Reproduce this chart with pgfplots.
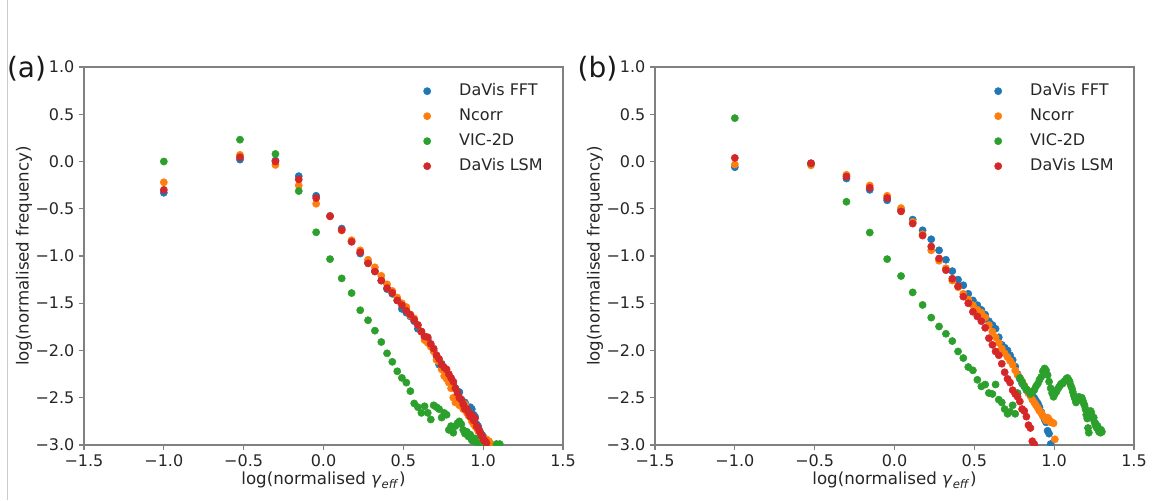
\documentclass[border=0pt]{standalone}
\usepackage{pgfplots}
\pgfplotsset{compat=1.18}
\usepackage{pgfplotstable}
\usepackage{fontspec}
\setmainfont{DejaVu Sans}[ItalicFont={DejaVu Sans Oblique}]

\definecolor{tabblue}{HTML}{1F77B4}
\definecolor{taborange}{HTML}{FF7F0E}
\definecolor{tabgreen}{HTML}{2CA02C}
\definecolor{tabred}{HTML}{D62728}

% ---------- panel (a) ----------
\pgfplotstableread{
x y
-1.000 -0.33
-0.523 0.02
-0.301 0.01
-0.155 -0.155
-0.046 -0.363
0.041 -0.575
0.114 -0.71
0.176 -0.845
0.230 -0.974
0.279 -1.07
0.322 -1.16
0.362 -1.26
0.398 -1.35
0.431 -1.40
0.462 -1.47
0.491 -1.56
0.519 -1.60
0.544 -1.64
0.568 -1.69
0.591 -1.77
0.613 -1.80
0.633 -1.86
0.653 -1.88
0.672 -1.95
0.690 -2.00
0.708 -2.06
0.724 -2.15
0.740 -2.14
0.756 -2.20
0.771 -2.24
0.785 -2.27
0.799 -2.30
0.813 -2.36
0.826 -2.40
0.839 -2.43
0.851 -2.44
0.863 -2.52
0.875 -2.56
0.886 -2.55
0.898 -2.60
0.908 -2.62
0.919 -2.60
0.929 -2.62
0.940 -2.68
0.949 -2.70
0.959 -2.78
0.968 -2.80
0.978 -2.85
0.987 -2.88
0.996 -2.90
1.004 -2.92
1.013 -2.95
1.021 -2.97
1.029 -2.99
}\fftA

\pgfplotstableread{
x y
-1.000 -0.22
-0.523 0.07
-0.301 -0.036
-0.155 -0.254
-0.046 -0.447
0.041 -0.58
0.114 -0.73
0.176 -0.833
0.230 -0.94
0.279 -1.04
0.322 -1.12
0.362 -1.21
0.398 -1.30
0.431 -1.37
0.462 -1.44
0.491 -1.50
0.519 -1.54
0.544 -1.63
0.568 -1.66
0.591 -1.73
0.613 -1.80
0.633 -1.89
0.653 -1.92
0.672 -1.96
0.690 -2.01
0.708 -2.10
0.724 -2.12
0.740 -2.20
0.756 -2.27
0.771 -2.30
0.785 -2.34
0.799 -2.40
0.813 -2.50
0.826 -2.55
0.839 -2.50
0.851 -2.58
0.863 -2.55
0.875 -2.62
0.886 -2.57
0.898 -2.66
0.908 -2.69
0.919 -2.70
0.929 -2.75
0.940 -2.78
0.949 -2.80
0.959 -2.82
0.968 -2.85
0.978 -2.86
0.987 -2.90
0.996 -2.92
1.004 -2.93
1.013 -2.96
1.021 -2.94
1.029 -2.97
1.037 -2.96
1.045 -2.99
}\ncorrA

\pgfplotstableread{
x y
-1.000 0.00
-0.523 0.231
-0.301 0.08
-0.155 -0.313
-0.046 -0.749
0.041 -1.033
0.114 -1.237
0.176 -1.392
0.230 -1.574
0.279 -1.68
0.322 -1.79
0.362 -1.91
0.398 -2.03
0.431 -2.12
0.462 -2.22
0.491 -2.29
0.519 -2.34
0.544 -2.43
0.568 -2.56
0.591 -2.60
0.613 -2.66
0.633 -2.59
0.653 -2.66
0.672 -2.73
0.690 -2.58
0.708 -2.60
0.724 -2.62
0.740 -2.71
0.756 -2.66
0.771 -2.68
0.785 -2.84
0.799 -2.80
0.813 -2.87
0.826 -2.80
0.839 -2.77
0.851 -2.75
0.863 -2.78
0.875 -2.84
0.886 -2.88
0.898 -2.86
0.908 -2.91
0.919 -2.89
0.929 -2.95
0.940 -2.96
0.949 -2.93
0.968 -2.98
0.987 -2.99
1.004 -2.99
1.083 -2.99
1.104 -2.99
}\vicA

\pgfplotstableread{
x y
-1.000 -0.30
-0.523 0.045
-0.301 0.00
-0.155 -0.19
-0.046 -0.387
0.041 -0.58
0.114 -0.725
0.176 -0.85
0.230 -0.96
0.279 -1.078
0.322 -1.165
0.362 -1.26
0.398 -1.34
0.431 -1.39
0.462 -1.47
0.491 -1.52
0.519 -1.58
0.544 -1.62
0.568 -1.675
0.591 -1.73
0.613 -1.80
0.633 -1.85
0.653 -1.86
0.672 -1.93
0.690 -1.98
0.708 -2.05
0.724 -2.09
0.740 -2.15
0.756 -2.18
0.771 -2.20
0.785 -2.25
0.799 -2.29
0.813 -2.33
0.826 -2.40
0.839 -2.45
0.851 -2.50
0.863 -2.52
0.875 -2.57
0.886 -2.62
0.898 -2.62
0.908 -2.66
0.919 -2.70
0.929 -2.68
0.940 -2.74
0.949 -2.72
0.959 -2.80
0.968 -2.82
0.978 -2.86
0.987 -2.89
0.996 -2.92
1.004 -2.95
1.013 -2.96
1.021 -2.98
}\lsmA

% ---------- panel (b) ----------
\pgfplotstableread{
x y
-1.000 -0.06
-0.523 -0.025
-0.301 -0.18
-0.155 -0.30
-0.046 -0.41
0.041 -0.51
0.114 -0.615
0.176 -0.728
0.230 -0.823
0.279 -0.94
0.322 -1.04
0.362 -1.16
0.398 -1.25
0.431 -1.31
0.462 -1.40
0.491 -1.47
0.519 -1.52
0.544 -1.57
0.568 -1.62
0.591 -1.69
0.613 -1.73
0.633 -1.77
0.653 -1.86
0.672 -1.94
0.690 -1.97
0.708 -2.00
0.724 -2.05
0.740 -2.10
0.756 -2.17
0.771 -2.25
0.785 -2.30
0.799 -2.35
0.813 -2.38
0.826 -2.42
0.839 -2.45
0.851 -2.47
0.863 -2.49
0.875 -2.50
0.886 -2.53
0.898 -2.56
0.908 -2.60
0.919 -2.65
0.929 -2.69
0.940 -2.73
0.949 -2.76
0.959 -2.85
0.968 -2.88
0.978 -2.99
}\fftB

\pgfplotstableread{
x y
-1.000 -0.032
-0.523 -0.04
-0.301 -0.141
-0.155 -0.254
-0.046 -0.363
0.041 -0.493
0.114 -0.64
0.176 -0.77
0.230 -0.94
0.279 -1.05
0.322 -1.13
0.362 -1.26
0.398 -1.33
0.431 -1.40
0.462 -1.46
0.491 -1.52
0.519 -1.57
0.544 -1.60
0.568 -1.65
0.591 -1.73
0.613 -1.80
0.633 -1.86
0.653 -1.92
0.672 -1.98
0.690 -2.03
0.708 -2.07
0.724 -2.11
0.740 -2.15
0.756 -2.21
0.771 -2.26
0.785 -2.29
0.799 -2.33
0.813 -2.37
0.826 -2.41
0.839 -2.45
0.851 -2.48
0.863 -2.52
0.875 -2.55
0.886 -2.58
0.898 -2.61
0.908 -2.64
0.919 -2.66
0.929 -2.69
0.940 -2.71
0.949 -2.74
0.959 -2.71
0.968 -2.73
0.978 -2.76
0.987 -2.76
0.996 -2.77
1.004 -2.94
}\ncorrB

\pgfplotstableread{
x y
-1.000 0.459
-0.523 -0.02
-0.301 -0.426
-0.155 -0.752
-0.046 -1.033
0.041 -1.212
0.114 -1.385
0.176 -1.518
0.230 -1.652
0.279 -1.746
0.322 -1.823
0.362 -1.90
0.398 -2.01
0.431 -2.08
0.462 -2.175
0.491 -2.21
0.519 -2.31
0.544 -2.38
0.568 -2.36
0.591 -2.45
0.613 -2.46
0.633 -2.36
0.653 -2.52
0.672 -2.55
0.690 -2.62
0.708 -2.67
0.724 -2.65
0.740 -2.58
0.756 -2.67
0.771 -2.45
0.785 -2.29
0.799 -2.33
0.813 -2.38
0.826 -2.41
0.839 -2.43
0.851 -2.46
0.863 -2.44
0.875 -2.42
0.886 -2.38
0.898 -2.35
0.908 -2.31
0.919 -2.28
0.929 -2.22
0.940 -2.19
0.949 -2.21
0.959 -2.26
0.968 -2.33
0.978 -2.40
0.987 -2.45
0.996 -2.49
1.004 -2.46
1.013 -2.44
1.021 -2.41
1.029 -2.39
1.037 -2.37
1.045 -2.35
1.053 -2.35
1.061 -2.33
1.068 -2.32
1.076 -2.30
1.083 -2.29
1.090 -2.31
1.097 -2.33
1.104 -2.37
1.111 -2.40
1.117 -2.44
1.124 -2.48
1.130 -2.51
1.137 -2.55
1.143 -2.53
1.149 -2.50
1.155 -2.49
1.161 -2.50
1.167 -2.52
1.173 -2.50
1.179 -2.53
1.185 -2.56
1.190 -2.58
1.196 -2.62
1.201 -2.68
1.207 -2.72
1.212 -2.82
1.217 -2.87
1.223 -2.66
1.228 -2.64
1.233 -2.66
1.238 -2.70
1.243 -2.72
1.248 -2.71
1.253 -2.76
1.258 -2.79
1.262 -2.78
1.267 -2.82
1.272 -2.80
1.276 -2.84
1.281 -2.86
1.286 -2.85
1.290 -2.87
1.294 -2.84
1.299 -2.86
}\vicB

\pgfplotstableread{
x y
-1.000 0.038
-0.523 -0.018
-0.301 -0.159
-0.155 -0.278
-0.046 -0.387
0.041 -0.528
0.114 -0.657
0.176 -0.784
0.230 -0.90
0.279 -1.026
0.322 -1.15
0.362 -1.24
0.398 -1.32
0.431 -1.43
0.462 -1.50
0.491 -1.59
0.519 -1.64
0.544 -1.69
0.568 -1.76
0.591 -1.87
0.613 -1.94
0.633 -2.01
0.653 -2.05
0.672 -2.14
0.690 -2.23
0.708 -2.30
0.724 -2.34
0.740 -2.42
0.756 -2.46
0.771 -2.49
0.785 -2.54
0.799 -2.62
0.813 -2.64
0.826 -2.70
0.839 -2.79
0.851 -2.82
0.863 -2.96
0.875 -2.99
}\lsmB

\pgfplotsset{
  panel/.style={
    scale only axis,
    width=359.25pt, height=283.5pt,
    anchor=south west,
    xmin=-1.5, xmax=1.5, ymin=-3, ymax=1,
    xtick={-1.5,-1,-0.5,0,0.5,1,1.5},
    xticklabels={−1.5,−1.0,−0.5,0.0,0.5,1.0,1.5},
    ytick={-3,-2.5,-2,-1.5,-1,-0.5,0,0.5,1},
    yticklabels={−3.0,−2.5,−2.0,−1.5,−1.0,−0.5,0.0,0.5,1.0},
    tick pos=left,
    tick align=outside,
    major tick length=3.7pt,
    tick style={black!50, line width=0.8pt},
    axis line style={black!50, line width=0.9pt},
    tick label style={font=\fontsize{12}{14}\selectfont, black!85},
    label style={font=\fontsize{12.5}{15}\selectfont, black!85},
    xlabel={log(normalised \textit{γ}\textsubscript{\textit{eff}})},
    ylabel={log(normalised frequency)},
    xlabel style={at={(axis description cs:0.5,-0.093)}, anchor=center},
    ylabel style={at={(axis description cs:-0.125,0.5)}, anchor=center},
    clip marker paths=true,
    legend style={draw=none, fill=none, inner sep=0pt,
      font=\fontsize{12}{14}\selectfont,
      nodes={inner sep=2pt, text height=9.5pt, text depth=2.5pt, text=black!85},
      row sep=2.75pt,
      at={(axis description cs:0.702,0.965)}, anchor=north west},
    legend cell align=left,
    legend image code/.code={%
      \draw[#1] plot coordinates {(0pt,0pt)};
      \path[draw=none, fill=none] (-5pt,0pt) (22pt,0pt);},
  },
  pts/.style={only marks, mark=*, mark size=2.7pt, color=#1, mark options={fill=#1, draw=#1}},
}

\begin{document}
\begin{tikzpicture}
\useasboundingbox (0pt,0pt) rectangle (864.75pt,375pt);
\draw[black!20, line width=0.6pt] (5.5pt,0pt) -- (5.5pt,375pt);

\begin{axis}[panel, at={(63pt,41.25pt)}]
\addplot[pts=tabblue] table {\fftA};
\addplot[pts=taborange] table {\ncorrA};
\addplot[pts=tabgreen] table {\vicA};
\addplot[pts=tabred] table {\lsmA};
\legend{DaVis FFT, Ncorr, VIC-2D, DaVis LSM}
\end{axis}

\begin{axis}[panel, at={(491.25pt,41.25pt)}]
\addplot[pts=tabblue] table {\fftB};
\addplot[pts=taborange] table {\ncorrB};
\addplot[pts=tabgreen] table {\vicB};
\addplot[pts=tabred] table {\lsmB};
\legend{DaVis FFT, Ncorr, VIC-2D, DaVis LSM}
\end{axis}

\node[font=\fontsize{21}{24}\selectfont, black!90] at (19.9pt,323.5pt) {(a)};
\node[font=\fontsize{21}{24}\selectfont, black!90] at (448.1pt,323.5pt) {(b)};
\end{tikzpicture}
\end{document}
